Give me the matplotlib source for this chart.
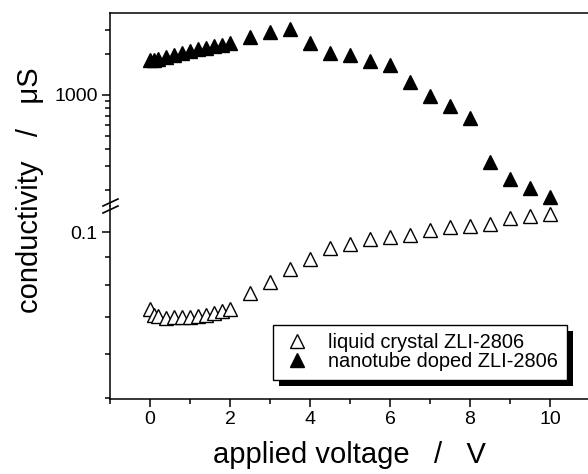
"""
Conductivity vs applied voltage for pure and nanotube-doped ZLI-2806,
drawn on a broken log axis (upper segment: doped, lower segment: pure LC).
"""

import matplotlib
matplotlib.use("Agg")
import matplotlib.pyplot as plt
from matplotlib.lines import Line2D
from matplotlib.patches import Rectangle
from matplotlib.ticker import MultipleLocator, NullFormatter
from matplotlib.transforms import IdentityTransform

plt.rcParams["font.family"] = ["Liberation Sans", "DejaVu Sans"]

# applied voltage (V)
voltage = [0, 0.1, 0.2, 0.4, 0.6, 0.8, 1.0, 1.2, 1.4, 1.6, 1.8, 2.0,
           2.5, 3.0, 3.5, 4.0, 4.5, 5.0, 5.5, 6.0, 6.5, 7.0, 7.5, 8.0,
           8.5, 9.0, 9.5, 10.0]
# conductivity (uS)
liquid_crystal = [0.0724, 0.0706, 0.0703, 0.0698, 0.0701, 0.0701, 0.0700,
                  0.0703, 0.0706, 0.0712, 0.0718, 0.0724, 0.0775, 0.0811,
                  0.0856, 0.0893, 0.0935, 0.0951, 0.0971, 0.0979, 0.0988,
                  0.1008, 0.1021, 0.1025, 0.1034, 0.1060, 0.1069, 0.1078]
nanotube_doped = [1810, 1800, 1840, 1900, 1970, 2030, 2100, 2180, 2220,
                  2290, 2330, 2410, 2670, 2900, 3060, 2410, 2040, 1950,
                  1790, 1660, 1250, 980, 830, 680, 320, 240, 207, 178]
labels = ["liquid crystal ZLI-2806", "nanotube doped ZLI-2806"]

hi_major, hi_minor = [1000], [200, 300, 400, 500, 600, 700, 800, 900, 2000, 3000]
lo_major, lo_minor = [0.1], [0.05, 0.06, 0.07, 0.08, 0.09]

W, H = 588, 474
fig = plt.figure(figsize=(W / 100, H / 100), dpi=100)


def fx(px):
    return px / W


def fy(py):
    return 1 - py / H


left, right = 110, 588
top, brk, bottom = 13, 206, 399
ax_hi = fig.add_axes([fx(left), fy(brk), fx(right - left), (brk - top) / H])
ax_lo = fig.add_axes([fx(left), fy(bottom), fx(right - left), (bottom - brk) / H],
                     sharex=ax_hi)

for ax in (ax_hi, ax_lo):
    ax.set_yscale("log")
    ax.spines["right"].set_visible(False)
    for s in ax.spines.values():
        s.set_linewidth(1.1)
    ax.tick_params(which="both", direction="out", width=1.1, labelsize=14,
                   right=False, top=False)
    ax.tick_params(which="major", length=6, pad=3)
    ax.tick_params(which="minor", length=3.5)
    ax.set_facecolor("none")

ax_hi.spines["bottom"].set_visible(False)
ax_hi.tick_params(which="both", bottom=False, labelbottom=False)
ax_lo.spines["top"].set_visible(False)

ax_hi.set_ylim(153, 4000)
ax_hi.set_yticks(hi_major, [str(v) for v in hi_major])
ax_hi.set_yticks(hi_minor, minor=True)
ax_hi.yaxis.set_minor_formatter(NullFormatter())

ax_lo.set_ylim(0.0497, 0.1115)
ax_lo.set_yticks(lo_major, [str(v) for v in lo_major])
ax_lo.set_yticks(lo_minor, minor=True)
ax_lo.yaxis.set_minor_formatter(NullFormatter())

ax_lo.set_xlim(-1, 10.95)
ax_lo.xaxis.set_major_locator(MultipleLocator(2))
ax_lo.xaxis.set_minor_locator(MultipleLocator(1))

h_lc, = ax_lo.plot(voltage, liquid_crystal, ls="none", marker="^", ms=10.5,
                   mfc="white", mec="black", mew=1.0, label=labels[0], clip_on=False)
h_nt, = ax_hi.plot(voltage, nanotube_doped, ls="none", marker="^", ms=10.5,
                   mfc="black", mec="black", mew=1.0, label=labels[1], clip_on=False)

leg = ax_lo.legend(handles=[h_lc, h_nt], loc="upper left",
                   bbox_to_anchor=(fx(273), fy(325)), bbox_transform=fig.transFigure,
                   borderaxespad=0, fontsize=14.4, frameon=True, fancybox=False,
                   framealpha=1, edgecolor="black", handlelength=1.6,
                   handletextpad=0.75, labelspacing=0.0, borderpad=0.42)
leg.get_frame().set_linewidth(1.0)

# break marks on the left spine
for dy in (-3.5, 3.5):
    y0, y1 = brk + dy + 3.5, brk + dy - 3.5
    fig.add_artist(Line2D([fx(103), fx(118)], [fy(y0), fy(y1)],
                          color="black", lw=1.2, transform=fig.transFigure))

fig.text(fx(30), fy(190), "conductivity   /   \u03bcS", rotation=90,
         ha="center", va="center", fontsize=21)
fig.text(fx(349), fy(455), "applied voltage   /   V",
         ha="center", va="center", fontsize=21)

# solid black drop shadow behind the legend
fig.canvas.draw()
bb = leg.get_window_extent()
ax_lo.add_patch(Rectangle((bb.x0 + 6, bb.y0 - 6), bb.width, bb.height,
                          facecolor="black", edgecolor="none", zorder=4.5,
                          transform=IdentityTransform(), clip_on=False))

fig.savefig("out.png", dpi=100)
